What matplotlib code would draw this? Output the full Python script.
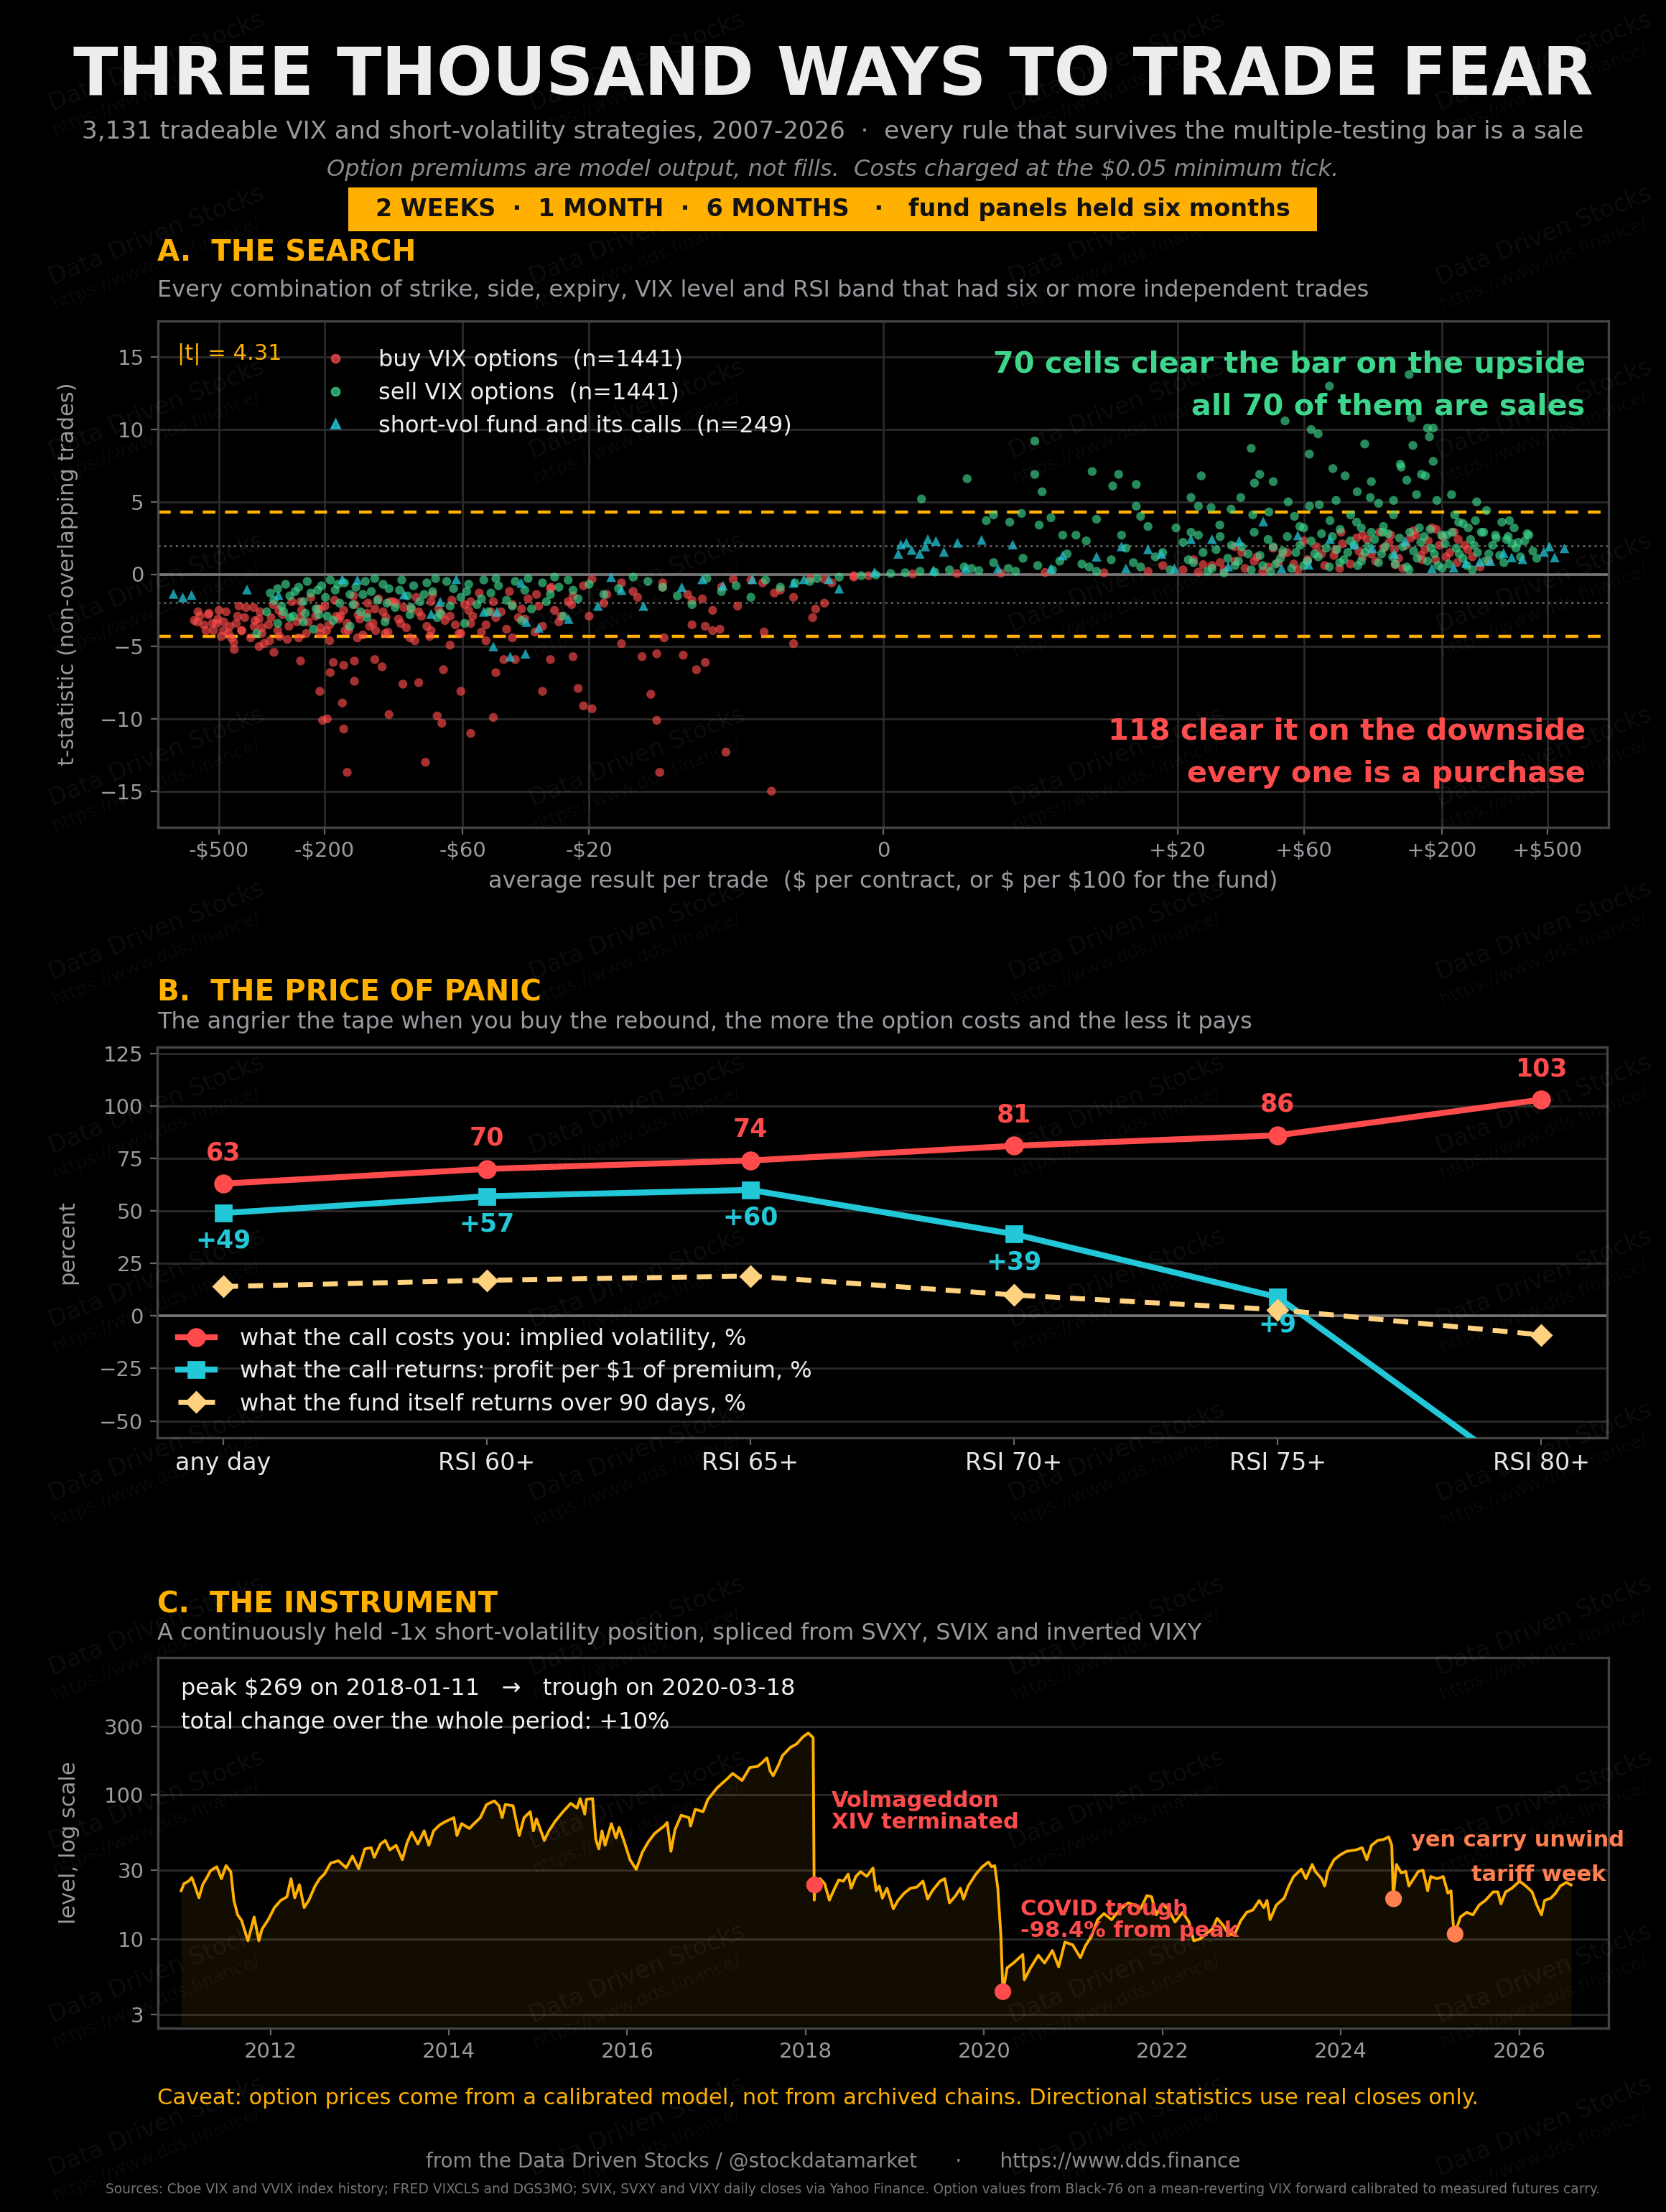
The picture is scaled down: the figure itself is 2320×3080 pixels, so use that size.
import numpy as np
import matplotlib
matplotlib.use('Agg')
from matplotlib import pyplot as plt
from matplotlib.lines import Line2D
from matplotlib.patches import Rectangle
from matplotlib.ticker import FixedLocator, NullLocator

plt.rcParams['text.parse_math'] = False
plt.rcParams['font.family'] = ['DejaVu Sans']

# ---------------- data ----------------
# panel A: (average $ result per trade, t-statistic)
buy_pts = [
    (-164, -13.7), (-83, -13.0), (-7.6, -15.0), (-15.2, -13.7), (-10.7, -12.3),
    (-169, -10.7), (-203, -10.1), (-195, -10.0), (-56, -11.0), (-46, -9.9), (-15.4, -10.1),
    (-72, -10.3), (-75, -9.8), (-114, -9.7), (-171, -8.9), (-208, -8.1), (-154, -7.4),
    (-101, -7.6), (-88, -7.5), (-61, -8.1), (-30, -8.1), (-22, -7.9), (-21, -9.1), (-19.8, -9.3),
    (-15.8, -8.3), (-190, -6.8), (-185, -6.1), (-246, -6.0), (-169, -6.3), (-154, -6.0),
    (-129, -5.9), (-121, -6.4), (-71, -6.6), (-45, -6.8), (-42, -5.9), (-38, -5.9), (-28, -5.9),
    (-23, -5.7), (-17.8, -4.8), (-16.4, -5.7), (-15.4, -5.5), (-13.6, -5.6), (-12.7, -6.6),
    (-12.1, -6.1), (-11.6, -3.9), (-11.1, -3.8), (-8.1, -4.0), (-6.1, -4.8), (-4.8, -3.0),
    (-4.6, -2.4), (-4.0, -2.0), (-9.9, -2.2), (-6.1, -1.6), (-7.4, -1.3), (-12.3, -1.7),
    (-12.1, -3.6), (-11.6, -2.5), (-13.0, -3.5), (-14.9, -4.4), (-438, -5.2), (-353, -5.0),
    (-310, -5.4), (-603, -3.3), (-549, -2.8), (-511, -3.4), (-479, -3.9), (-449, -4.4),
    (-411, -3.9), (-368, -3.6), (-344, -4.1), (-322, -4.6), (-353, -3.1), (-420, -2.2),
    (-297, -2.5), (-246, -3.0), (-208, -4.1), (-191, -3.5), (-167, -3.9), (-147, -3.1),
    (-135, -3.6), (-118, -4.1), (-103, -3.4), (-91, -4.6), (-79, -3.9), (-67, -4.9), (-61, -4.1),
    (-56, -3.4), (-49, -4.6), (-39, -4.4), (-35, -3.1), (-30, -3.6), (-25.5, -2.9),
    (-246, -1.9), (-208, -2.4), (-174, -2.9), (-153, -2.1), (-129, -2.4), (-113, -1.9),
    (-94, -2.4), (-79, -1.9), (-67, -2.9), (-56, -1.9), (-47, -2.6), (-39, -2.1), (-31.6, -1.4),
    (-23.3, -2.1), (-18.8, -1.4), (-16.7, -1.6), (-15.0, -0.9), (-13.3, -1.4), (-10.2, -0.35),
    (-8.2, -0.6), (-4.0, -0.35), (-2.0, -0.1), (-17.8, -0.6), (-19.8, -0.35), (-27.8, -0.9),
    (-620, -3.2), (-590, -2.9), (-570, -3.5), (-545, -2.7), (-525, -3.9), (-505, -3.1),
    (-490, -4.3), (-470, -2.6), (-455, -3.6), (-440, -4.7), (-425, -2.9), (-410, -3.9),
    (-395, -2.3), (-380, -4.4), (-365, -3.2), (-350, -2.6), (-338, -4.8), (-325, -3.5),
    (-312, -2.1), (-300, -3.9), (-288, -2.8), (-276, -4.5), (-265, -1.9), (-254, -3.3),
    (-244, -2.5), (-234, -4.1), (-225, -1.6), (-216, -2.9), (-207, -3.7), (-199, -2.2),
    (-191, -4.6), (-183, -1.8), (-176, -3.1), (-169, -2.5), (-162, -3.9), (-155, -1.5),
    (-149, -2.8), (-143, -4.2), (-137, -2.0), (-131, -3.4), (-125, -1.7), (-120, -2.6),
    (-115, -4.0), (-110, -1.9), (-105, -3.1), (-100, -2.3), (-95, -4.4), (-90, -1.6),
    (-86, -2.9), (-82, -3.6), (-78, -1.4), (-74, -2.4), (-70, -3.2), (-66, -1.8), (-62, -4.1),
    (-59, -2.1), (-55, -2.9), (-52, -1.3), (-49, -3.5), (-46, -1.9), (-43, -2.6), (-40, -1.2),
    (-37, -3.0), (-34, -1.7), (-31, -2.2), (-28, -1.0), (-26, -3.3), (-23, -1.5), (-21, -0.8),
    (-19, -2.0), (-17, -1.2), (-15, -0.6), (-13, -1.8), (-11, -0.9), (-9, -0.4), (-7, -1.1),
    (-5, -0.3), (-3.5, -0.6), (-2, -0.2), (-1, -0.1),
    (-600, -2.6), (-560, -3.9), (-530, -3.4), (-500, -2.5), (-480, -3.3), (-460, -4.1),
    (-430, -3.4), (-400, -3.0), (-370, -2.3), (-345, -3.7), (-318, -3.0), (-295, -4.3),
    (-272, -3.6), (-250, -4.4), (-230, -3.3), (-212, -2.4), (-196, -3.9), (-180, -2.9),
    (-164, -3.4), (-150, -4.4), (-138, -2.7), (-128, -3.9), (-117, -3.0), (-107, -2.0),
    (-98, -3.7), (-88, -2.6), (-80, -4.3), (-72, -2.8), (-64, -3.5), (-57, -2.5), (-51, -4.0),
    (-45, -3.0), (-41, -3.8), (-36, -2.4), (-32, -4.0), (-27, -2.5), (-24, -1.9), (-20, -2.9),
    (15, 0.1), (18, 0.2), (21, 0.3), (24, 0.15), (27, 0.6), (30, 0.3), (33, 0.9), (36, 0.4),
    (40, 1.2), (44, 0.5), (48, 0.8), (52, 1.5), (57, 0.3), (62, 1.0), (67, 1.9), (72, 0.6),
    (78, 1.3), (84, 2.1), (90, 0.7), (97, 1.6), (104, 2.4), (112, 0.9), (120, 1.8), (128, 2.7),
    (137, 1.1), (146, 2.0), (156, 3.0), (166, 1.3), (177, 2.3), (189, 1.0), (201, 2.6),
    (214, 1.5), (228, 0.8), (243, 2.0), (260, 1.2), (278, 0.5), (300, 0.9), (5, 0.05),
    (8, 0.08), (11, 0.12), (2, 0.02), (159, 2.7), (190, 3.1), (126, 2.2), (100, 1.2),
    (79, 1.7), (62, 0.9), (50, 1.4), (39, 0.9), (33, 1.9), (25, 0.66), (230, 2.4), (133, 0.66),
    (168, 1.0), (100, 2.7), (83, 2.9),
    (19, 0.6), (23, 1.0), (29, 0.8), (35, 1.5), (42, 0.2), (46, 1.8), (55, 0.7), (60, 2.3),
    (70, 1.4), (82, 0.4), (95, 2.5), (108, 1.4), (116, 2.9), (132, 1.7), (142, 0.4),
    (152, 2.5), (172, 1.7), (183, 3.2), (195, 2.0), (207, 1.2), (222, 2.9), (250, 1.7),
]

sell_pts = [
    (150, 13.8), (75, 13.0), (153, 10.8), (51, 10.6), (64, 10.0), (68, 9.7), (176, 10.1),
    (185, 10.1), (179, 9.5), (102, 9.0), (155, 8.9), (38, 8.7), (63, 8.3), (10.3, 9.2),
    (10.3, 6.9), (10.8, 5.7), (5.7, 6.6), (2.6, 5.2), (14.2, 7.1), (16.0, 6.9), (15.6, 6.1),
    (17.2, 6.2), (24.6, 6.8), (40.9, 6.9), (39.1, 6.3), (46.0, 6.4), (77.3, 7.3), (86.0, 6.8),
    (108, 6.4), (140, 7.4), (139, 7.6), (147, 6.5), (167, 6.9), (173, 6.8), (185, 7.8),
    (217, 5.5), (270, 5.0), (294, 4.4), (22.5, 5.3), (24, 4.7), (34.7, 5.3), (52.4, 5.0),
    (68.7, 4.8), (79.5, 5.1), (95.5, 5.7), (107, 5.3), (115, 4.9), (131, 5.1), (160, 5.5),
    (191, 5.1), (223, 4.1), (231, 3.6), (267, 3.7), (336, 3.6), (359, 3.7), (374, 3.2),
    (419, 2.8), (387, 2.2), (7.0, 3.7), (7.5, 4.1), (8.6, 3.6), (9.4, 4.2), (10.6, 3.4),
    (11.4, 3.9), (12.2, 2.7), (13.1, 2.7), (13.8, 2.3), (14.5, 3.8), (16.2, 2.7), (17.2, 4.7),
    (17.5, 4.0), (18.0, 3.3), (19.9, 3.2), (22.5, 2.9), (26.8, 4.6), (28.9, 3.4), (31.9, 4.5),
    (38.5, 4.1), (44.3, 4.3), (55.3, 4.0), (58.0, 3.3), (63.1, 4.7), (75.4, 3.7), (82.3, 3.1),
    (90.2, 4.1), (99.0, 3.2), (119, 2.9), (131, 4.1), (164, 3.2), (208, 2.7), (251, 3.2),
    (287, 2.9), (318, 2.7), (350, 2.4),
    (0.5, 0.05), (1.5, 0.1), (2.5, 0.2), (3.5, 0.15), (4.5, 0.3), (5.5, 0.5), (6.5, 0.25),
    (7.5, 0.8), (8.5, 0.4), (9.5, 1.1), (10.5, 0.6), (11.5, 0.3), (12.5, 1.4), (13.5, 0.7),
    (14.5, 0.2), (15.5, 1.0), (16.5, 1.8), (17.5, 0.5), (18.5, 1.2), (19.5, 0.3), (21, 2.2),
    (23, 0.8), (25, 1.5), (27, 0.4), (29, 2.6), (31, 1.1), (33, 0.6), (35, 1.9), (38, 0.3),
    (41, 1.3), (44, 2.4), (47, 0.7), (50, 1.6), (54, 0.4), (58, 2.0), (62, 0.9), (66, 1.4),
    (70, 2.8), (75, 0.5), (80, 1.7), (85, 1.0), (90, 2.3), (96, 0.6), (102, 1.5), (108, 2.9),
    (115, 0.8), (122, 1.9), (130, 1.2), (138, 2.5), (147, 0.5), (156, 1.6), (166, 2.2),
    (176, 0.9), (187, 1.4), (199, 2.7), (212, 0.7), (226, 1.8), (240, 1.1), (256, 2.4),
    (272, 1.5), (290, 0.9), (310, 2.0), (330, 1.3), (355, 2.6), (380, 1.8), (410, 2.3),
    (440, 1.6), (120, 3.3), (95, 3.6), (180, 3.1), (240, 3.5), (60, 3.2), (150, 0.3),
    (200, 0.4), (260, 0.3), (45, 0.2), (30, 0.1),
    (22, 1.0), (24, 2.7), (26, 0.2), (28, 1.7), (32, 2.0), (34, 0.9), (37, 1.4), (39, 2.9),
    (42, 0.6), (46, 1.9), (49, 1.1), (52, 2.6), (56, 1.5), (60, 0.6), (64, 2.3), (68, 1.2),
    (73, 1.8), (77, 2.6), (82, 0.8), (88, 1.5), (93, 2.0), (99, 0.9), (105, 1.9), (111, 2.4),
    (118, 1.4), (125, 2.8), (133, 0.7), (142, 1.9), (151, 2.9), (161, 1.1), (171, 2.6),
    (182, 1.8), (193, 0.6), (205, 2.1), (218, 2.9), (232, 1.4), (248, 0.6), (264, 2.0),
    (281, 2.9), (300, 1.4), (320, 2.5), (342, 0.8), (368, 2.1), (395, 1.2), (425, 2.7),
    (455, 1.1), (6, 0.4), (9, 0.2), (12, 0.9), (14, 0.5), (17, 0.8), (19, 1.5),
    (-330, -2.6), (-310, -1.8), (-300, -1.0), (-290, -2.2), (-280, -0.7), (-270, -1.5),
    (-262, -2.9), (-250, -0.9), (-240, -1.9), (-232, -0.5), (-225, -1.3), (-215, -2.4),
    (-205, -0.8), (-198, -1.6), (-190, -0.4), (-182, -1.1), (-175, -2.0), (-168, -0.6),
    (-160, -1.4), (-152, -0.9), (-146, -2.6), (-140, -0.5), (-133, -1.2), (-126, -1.8),
    (-120, -0.7), (-114, -1.0), (-108, -2.3), (-102, -0.4), (-97, -1.5), (-92, -0.8),
    (-87, -1.9), (-82, -0.6), (-78, -1.2), (-73, -2.7), (-69, -0.5), (-65, -1.0), (-61, -1.6),
    (-57, -0.7), (-53, -2.1), (-50, -0.4), (-47, -1.3), (-44, -0.8), (-41, -1.8), (-38, -0.5),
    (-35, -1.1), (-33, -2.4), (-30, -0.6), (-28, -1.4), (-26, -0.9), (-24, -0.4), (-22, -1.7),
    (-20, -0.7), (-18, -1.0), (-16, -0.5), (-14, -1.5), (-12, -0.3), (-10, -0.8), (-8, -0.4),
    (-6, -0.6), (-4.5, -0.3), (-3, -0.2), (-1.5, -0.1), (-0.5, -0.05), (-9, -1.6), (-13, -2.1),
    (-17, -0.2), (-25, -2.9), (-36, -3.2), (-48, -2.6), (-59, -3.4), (-75, -3.0), (-95, -2.8),
    (-118, -3.3), (-138, -3.0), (-160, -3.6), (-185, -3.2), (-210, -2.8), (-240, -3.3),
    (-270, -3.0), (-300, -3.4), (-360, -4.1), (-220, -3.8),
    (-320, -1.3), (-285, -2.6), (-258, -1.2), (-236, -2.7), (-212, -1.1), (-195, -2.9),
    (-178, -0.7), (-156, -2.1), (-143, -1.4), (-129, -0.3), (-116, -2.0), (-104, -1.1),
    (-94, -2.3), (-84, -1.4), (-76, -0.3), (-67, -2.2), (-58, -1.2), (-51, -1.7), (-45, -0.3),
    (-39, -2.2), (-34, -0.3), (-29, -1.9), (-27, -0.2), (-23, -1.1), (-19, -1.4), (-15, -0.9),
    (-11, -1.2), (-7, -0.9), (-5, -0.5),
]

fund_pts = [
    (-743, -1.36), (-685, -1.6), (-635, -1.44), (-392, -1.06), (-298, -1.44), (-46, -5.0),
    (-39.7, -5.7), (-34.8, -5.5), (-34.5, -3.3), (-31, -3.7), (-23.9, -3.1), (-19.4, -2.2),
    (-16.3, -2.2), (-13.7, -0.9), (-10.9, -0.8), (-6.1, -0.6), (-3.0, -1.0), (-3.7, -0.35),
    (-171, -0.35), (-150, -0.4), (-100, -1.4), (-79, -2.75), (-73, -1.9), (-50, -2.6),
    (-44.6, -2.6), (-63.5, -0.35), (-36.1, -0.6), (-18.5, -0.2), (-17.8, -1.1), (-12.3, -0.35),
    (-8.9, -0.35), (-5.4, -0.35), (-0.6, 0.15),
    (1.02, 1.41), (1.2, 2.05), (1.57, 2.17), (1.93, 1.67), (2.48, 1.41), (2.85, 1.92),
    (3.03, 2.42), (3.58, 2.3), (4.12, 1.54), (5.04, 2.17), (6.68, 2.37), (8.8, 2.05),
    (12.2, 1.29), (14.5, 1.21), (16.2, 1.92), (18.0, 1.72), (18.9, 1.41), (22.5, 2.42),
    (27, 2.42), (34.2, 2.3), (42.2, 3.64), (57.0, 2.68), (75.4, 2.42), (93.0, 2.05),
    (109, 1.79), (132, 1.41), (145, 2.3), (183, 0.4), (221, 0.45), (246, 0.78), (277, 0.86),
    (304, 0.91), (341, 1.46), (366, 1.16), (402, 1.04), (484, 1.54), (508, 1.92), (532, 1.16),
    (579, 1.79), (62.6, 0.66), (49.5, 0.4), (31.1, 0.53), (19.8, 0.4), (16.5, 0.4),
    (11.4, 0.4), (7.8, 0.4), (5.6, 0.4), (3.4, 0.28),
]

t_bar = 4.31
t_nominal = 1.96
x_ticks = [-500, -200, -60, -20, 0, 20, 60, 200, 500]
x_tick_labels = ['-$500', '-$200', '-$60', '-$20', '0', '+$20', '+$60', '+$200', '+$500']

# panel B
rsi_bands = ['any day', 'RSI 60+', 'RSI 65+', 'RSI 70+', 'RSI 75+', 'RSI 80+']
call_iv = [63, 70, 74, 81, 86, 103]
call_ret = [49, 57, 60, 39, 9, -82]
fund_ret = [14, 17, 19, 10, 3, -9]

# panel C: spliced short-vol level (decimal year, level)
inst_year = [
    2011.000, 2011.031, 2011.084, 2011.119, 2011.154, 2011.199, 2011.241, 2011.294, 2011.329,
    2011.399, 2011.451, 2011.503, 2011.556, 2011.591, 2011.633, 2011.678, 2011.748, 2011.818,
    2011.871, 2011.906, 2011.976, 2012.045, 2012.115, 2012.185, 2012.231, 2012.273, 2012.325,
    2012.378, 2012.430, 2012.500, 2012.552, 2012.605, 2012.675, 2012.762, 2012.850, 2012.920,
    2012.990, 2013.059, 2013.129, 2013.164, 2013.234, 2013.287, 2013.339, 2013.409, 2013.479,
    2013.531, 2013.584, 2013.654, 2013.724, 2013.776, 2013.829, 2013.899, 2013.969, 2014.056,
    2014.091, 2014.143, 2014.231, 2014.283, 2014.353, 2014.423, 2014.510, 2014.563, 2014.598,
    2014.633, 2014.720, 2014.790, 2014.843, 2014.913, 2014.948, 2014.983, 2015.070, 2015.122,
    2015.192, 2015.280, 2015.367, 2015.437, 2015.472, 2015.524, 2015.542, 2015.612, 2015.647,
    2015.682, 2015.717, 2015.752, 2015.822, 2015.874, 2015.909, 2015.962, 2016.031, 2016.101,
    2016.168, 2016.238, 2016.308, 2016.413, 2016.448, 2016.490, 2016.535, 2016.605, 2016.692,
    2016.710, 2016.762, 2016.850, 2016.902, 2017.007, 2017.112, 2017.182, 2017.287, 2017.374,
    2017.462, 2017.514, 2017.566, 2017.601, 2017.636, 2017.689, 2017.741, 2017.829, 2017.899,
    2017.969, 2018.030, 2018.084, 2018.096, 2018.110, 2018.126, 2018.161, 2018.213, 2018.266,
    2018.318, 2018.371, 2018.423, 2018.476, 2018.510, 2018.563, 2018.615, 2018.685, 2018.755,
    2018.790, 2018.825, 2018.860, 2018.912, 2018.983, 2019.035, 2019.105, 2019.175, 2019.245,
    2019.315, 2019.367, 2019.420, 2019.507, 2019.559, 2019.612, 2019.682, 2019.734, 2019.769,
    2019.822, 2019.909, 2019.979, 2020.049, 2020.084, 2020.119, 2020.154, 2020.189, 2020.211,
    2020.259, 2020.329, 2020.434, 2020.451, 2020.521, 2020.608, 2020.678, 2020.766, 2020.836,
    2020.906, 2020.993, 2021.080, 2021.133, 2021.203, 2021.273, 2021.343, 2021.430, 2021.517,
    2021.615, 2021.685, 2021.755, 2021.825, 2021.878, 2021.930, 2022.000, 2022.070, 2022.140,
    2022.227, 2022.297, 2022.350, 2022.420, 2022.490, 2022.559, 2022.612, 2022.682, 2022.734,
    2022.804, 2022.874, 2022.944, 2023.014, 2023.084, 2023.136, 2023.171, 2023.206, 2023.276,
    2023.364, 2023.416, 2023.469, 2023.556, 2023.608, 2023.678, 2023.713, 2023.783, 2023.818,
    2023.853, 2023.923, 2023.993, 2024.063, 2024.168, 2024.238, 2024.290, 2024.343, 2024.413,
    2024.483, 2024.535, 2024.570, 2024.587, 2024.622, 2024.675, 2024.727, 2024.762, 2024.815,
    2024.867, 2024.920, 2024.972, 2025.007, 2025.077, 2025.147, 2025.199, 2025.234, 2025.259,
    2025.280, 2025.339, 2025.409, 2025.479, 2025.549, 2025.619, 2025.706, 2025.759, 2025.794,
    2025.846, 2025.916, 2026.003, 2026.073, 2026.143, 2026.196, 2026.248, 2026.283, 2026.353,
    2026.406, 2026.458, 2026.528, 2026.580,
]
inst_level = [
    21.6, 24.2, 25.2, 26.7, 23.3, 19.3, 23.8, 27.1, 29.8,
    31.7, 26.2, 32.3, 29.3, 18.5, 14.7, 13.4, 9.7, 14.2,
    9.7, 11.7, 13.6, 16.5, 18.5, 19.6, 26.2, 19.3, 23.8,
    16.5, 18.5, 23.3, 26.2, 28.2, 33.6, 34.9, 31.2, 37.6,
    30.7, 42.2, 43.0, 36.9, 45.6, 48.3, 41.5, 44.7, 35.5,
    46.4, 55.2, 45.6, 56.3, 44.7, 56.3, 62.0, 65.6, 69.5,
    52.2, 63.2, 58.5, 63.2, 69.5, 85.8, 90.9, 84.1, 69.5,
    85.8, 84.1, 52.2, 69.5, 76.5, 56.3, 68.2, 48.3, 56.3,
    65.6, 76.5, 87.4, 81.0, 94.4, 73.6, 93.3, 94.4, 49.2,
    42.2, 56.3, 44.7, 63.2, 50.2, 59.6, 48.3, 35.5, 30.4,
    39.9, 47.4, 54.1, 60.8, 64.3, 40.6, 57.4, 72.2, 69.5,
    60.8, 79.5, 76.5, 92.6, 112, 128, 141, 126, 155,
    158, 168, 181, 147, 136, 158, 188, 214, 226,
    253, 269, 250, 18.6, 25.5, 22.0, 26.2, 24.2, 18.6,
    22.0, 25.7, 25.2, 28.2, 22.5, 27.2, 29.3, 27.2, 31.1,
    21.6, 23.3, 19.2, 22.5, 16.2, 18.5, 20.8, 22.5, 22.9,
    25.2, 18.9, 21.6, 25.2, 26.2, 17.8, 20.0, 22.5, 18.9,
    23.3, 28.2, 31.7, 34.2, 31.7, 32.3, 22.5, 10.4, 4.3,
    6.3, 6.8, 7.8, 5.2, 6.3, 7.7, 6.8, 8.3, 6.4,
    9.5, 9.1, 7.4, 8.9, 10.4, 13.6, 15.0, 13.6, 15.9,
    17.8, 17.2, 16.2, 20.0, 19.6, 14.7, 17.5, 15.9, 13.1,
    15.3, 13.1, 9.7, 10.0, 10.9, 11.7, 13.9, 12.4, 10.9,
    10.6, 13.3, 15.3, 15.9, 18.5, 16.5, 18.5, 13.6, 17.2,
    19.2, 23.3, 27.1, 30.5, 26.2, 32.9, 29.4, 26.2, 23.3,
    29.4, 35.5, 38.4, 40.6, 41.5, 43.0, 35.5, 44.7, 48.3,
    49.2, 51.2, 44.7, 19.5, 32.9, 28.8, 29.4, 23.3, 26.2,
    29.4, 30.0, 21.6, 27.1, 26.2, 27.1, 20.8, 21.6, 12.6,
    11.0, 14.2, 15.3, 14.7, 17.2, 18.5, 21.2, 21.2, 17.5,
    21.2, 22.5, 25.2, 23.3, 21.2, 17.2, 14.7, 18.5, 19.2,
    20.8, 23.3, 24.7, 23.7,
]

event_year = [2018.100, 2020.211, 2024.590, 2025.280]
event_level = [23.7, 4.3, 19.0, 10.8]
event_color = ['#FF4B4B', '#FF4B4B', '#FF7F50', '#FF7F50']

# ---------------- style ----------------
BG = '#000000'
AMBER = '#FFB000'
RED = '#FF4B4B'
GREEN = '#3DD68C'
CYAN = '#22C7D8'
SAND = '#FFD27F'
CORAL = '#FF7F50'
GREY = '#9A9AA0'
GRID = '#2A2A2A'
SPINE = '#444444'

W, H = 2320, 3080


def fx(px):
    return px / W


def fy(py):
    return 1 - py / H


def style_axes(ax):
    ax.set_facecolor(BG)
    for s in ax.spines.values():
        s.set_color(SPINE)
        s.set_linewidth(1.2)
    ax.tick_params(colors='#666666', labelcolor=GREY, labelsize=10.5)
    ax.set_axisbelow(True)


fig = plt.figure(figsize=(11.6, 15.4), dpi=200)
fig.patch.set_facecolor(BG)

# ---------------- headings ----------------
fig.text(0.5, fy(132), 'THREE THOUSAND WAYS TO TRADE FEAR', ha='center', va='baseline',
         fontsize=33, fontweight='bold', color='#EDEDED')
fig.text(0.5, fy(183), '3,131 tradeable VIX and short-volatility strategies, 2007-2026  \u00b7  '
         'every rule that survives the multiple-testing bar is a sale',
         ha='center', va='center', fontsize=12.3, color=GREY)
fig.text(0.5, fy(237), 'Option premiums are model output, not fills.  Costs charged at the $0.05 minimum tick.',
         ha='center', va='center', fontsize=11.5, style='italic', color='#8A8A8A')
fig.add_artist(Rectangle((fx(485), fy(322)), fx(1349), 61 / H, transform=fig.transFigure,
                         facecolor=AMBER, edgecolor='none'))
fig.text(0.5, fy(291), '2 WEEKS  \u00b7  1 MONTH  \u00b7  6 MONTHS   \u00b7   fund panels held six months',
         ha='center', va='center', fontsize=12, fontweight='bold', color='#111111')

sections = [
    (363, 413, 'A.  THE SEARCH',
     'Every combination of strike, side, expiry, VIX level and RSI band that had six or more independent trades'),
    (1393, 1432, 'B.  THE PRICE OF PANIC',
     'The angrier the tape when you buy the rebound, the more the option costs and the less it pays'),
    (2245, 2283, 'C.  THE INSTRUMENT',
     'A continuously held -1x short-volatility position, spliced from SVXY, SVIX and inverted VIXY'),
]
for yh, ys, head, sub in sections:
    fig.text(fx(219), fy(yh), head, fontsize=14.5, fontweight='bold', color=AMBER, va='baseline')
    fig.text(fx(219), fy(ys), sub, fontsize=11.5, color=GREY, va='baseline')

# ---------------- panel A ----------------
axA = fig.add_axes([fx(220), fy(1152), fx(2020), 705 / H])
style_axes(axA)
axA.set_xscale('symlog', linthresh=20, linscale=1)
bx, bt = zip(*buy_pts)
sx, st = zip(*sell_pts)
ux, ut = zip(*fund_pts)
axA.scatter(bx, bt, s=20, color=RED, alpha=0.65, edgecolors='none', zorder=3)
axA.scatter(sx, st, s=20, color=GREEN, alpha=0.65, edgecolors='none', zorder=3)
axA.scatter(ux, ut, s=24, marker='^', color=CYAN, alpha=0.75, edgecolors='none', zorder=4)
for sgn in (1, -1):
    axA.axhline(sgn * t_bar, color=AMBER, ls='--', lw=1.6, dashes=(4, 3), zorder=2)
    axA.axhline(sgn * t_nominal, color='#555555', ls=':', lw=1.1, zorder=2)
axA.axhline(0, color='#777777', lw=1.3, zorder=2)
axA.set_xlim(-850, 850)
axA.set_ylim(-17.5, 17.5)
axA.xaxis.set_major_locator(FixedLocator(x_ticks))
axA.xaxis.set_minor_locator(NullLocator())
axA.set_xticklabels(x_tick_labels)
axA.set_yticks([-15, -10, -5, 0, 5, 10, 15])
axA.grid(True, color=GRID, lw=1)
axA.set_xlabel('average result per trade  ($ per contract, or $ per $100 for the fund)',
               color=GREY, fontsize=11.5)
axA.xaxis.set_label_coords(0.5, -0.085)
axA.set_ylabel('t-statistic (non-overlapping trades)', color=GREY, fontsize=11)
axA.yaxis.set_label_coords(-0.055, 0.5)
axA.text(0.0134, 0.935, '|t| = 4.31', transform=axA.transAxes, color=AMBER, fontsize=11,
         va='center')
handles = [
    Line2D([], [], ls='', marker='o', color=RED, alpha=0.7, markersize=4),
    Line2D([], [], ls='', marker='o', color=GREEN, alpha=0.7, markersize=4),
    Line2D([], [], ls='', marker='^', color=CYAN, alpha=0.8, markersize=4.5),
]
axA.legend(handles, ['buy VIX options  (n=1441)', 'sell VIX options  (n=1441)',
                     'short-vol fund and its calls  (n=249)'],
           loc='upper left', bbox_to_anchor=(0.092, 0.985), frameon=False,
           fontsize=11.5, labelcolor='#EEEEEE', handletextpad=0.9, labelspacing=0.45)
for yy, txt, col in [(0.913, '70 cells clear the bar on the upside', GREEN),
                     (0.830, 'all 70 of them are sales', GREEN),
                     (0.189, '118 clear it on the downside', RED),
                     (0.105, 'every one is a purchase', RED)]:
    axA.text(0.984, yy, txt, transform=axA.transAxes, ha='right', va='center', color=col,
             fontsize=14.9, fontweight='bold')

# ---------------- panel B ----------------
axB = fig.add_axes([fx(219), fy(2002), fx(2019), 544 / H])
style_axes(axB)
xb = np.arange(len(rsi_bands))
axB.plot(xb, call_iv, color=RED, lw=3, marker='o', markersize=8.5, zorder=4,
         label='what the call costs you: implied volatility, %')
axB.plot(xb, call_ret, color=CYAN, lw=3, marker='s', markersize=8, zorder=4,
         label='what the call returns: profit per $1 of premium, %')
axB.plot(xb, fund_ret, color=SAND, lw=2.5, ls='--', dashes=(3, 2), marker='D', markersize=7,
         zorder=4, label='what the fund itself returns over 90 days, %')
axB.axhline(0, color='#777777', lw=1.3, zorder=2)
for i, v in enumerate(call_iv):
    axB.annotate(str(v), (i, v), xytext=(0, 15.5), textcoords='offset points', ha='center',
                 va='center', color=RED, fontsize=12.5, fontweight='bold')
for i, v in enumerate(call_ret[:-1]):
    axB.annotate('+%d' % v, (i, v), xytext=(0, -14), textcoords='offset points', ha='center',
                 va='center', color=CYAN, fontsize=12.5, fontweight='bold', zorder=5)
axB.set_xlim(-0.25, 5.25)
axB.set_ylim(-58, 128)
axB.set_yticks([-50, -25, 0, 25, 50, 75, 100, 125])
axB.set_xticks(xb)
axB.set_xticklabels(rsi_bands)
axB.tick_params(axis='x', labelcolor='#E6E6E6', labelsize=12)
axB.grid(True, axis='y', color=GRID, lw=1)
axB.set_ylabel('percent', color=GREY, fontsize=11)
axB.yaxis.set_label_coords(-0.055, 0.5)
axB.legend(loc='lower left', bbox_to_anchor=(0.0, 0.005), frameon=False, fontsize=11.5,
           labelcolor='#EEEEEE', handlelength=1.6, handletextpad=1.1, labelspacing=0.45)

# ---------------- panel C ----------------
axC = fig.add_axes([fx(220), fy(2824), fx(2020), 516 / H])
style_axes(axC)
axC.set_yscale('log')
axC.fill_between(inst_year, inst_level, 2.5, color=AMBER, alpha=0.075, lw=0, zorder=1)
axC.plot(inst_year, inst_level, color=AMBER, lw=1.4, zorder=3)
axC.scatter(event_year, event_level, s=70, color=event_color, zorder=5, edgecolors='none')
axC.set_xlim(2010.74, 2027.0)
axC.set_ylim(2.4, 900)
axC.yaxis.set_major_locator(FixedLocator([3, 10, 30, 100, 300]))
axC.yaxis.set_minor_locator(NullLocator())
axC.set_yticklabels(['3', '10', '30', '100', '300'])
axC.set_xticks(list(range(2012, 2027, 2)))
axC.set_xticklabels([str(y) for y in range(2012, 2027, 2)])
axC.grid(True, axis='y', color=GRID, lw=1)
axC.set_ylabel('level, log scale', color=GREY, fontsize=11)
axC.yaxis.set_label_coords(-0.054, 0.5)
axC.text(0.0158, 0.915, 'peak $269 on 2018-01-11   \u2192   trough on 2020-03-18',
         transform=axC.transAxes, color='#F0F0F0', fontsize=11.5, va='center')
axC.text(0.0158, 0.824, 'total change over the whole period: +10%',
         transform=axC.transAxes, color='#F0F0F0', fontsize=11.5, va='center')
axC.text(2018.29, 76.8, 'Volmageddon\nXIV terminated', color=RED, fontsize=11,
         fontweight='bold', va='center', linespacing=1.05)
axC.text(2020.41, 13.5, 'COVID trough\n-98.4% from peak', color=RED, fontsize=11,
         fontweight='bold', va='center', linespacing=1.05)
axC.text(2024.79, 48.5, 'yen carry unwind', color=CORAL, fontsize=11, fontweight='bold',
         va='center')
axC.text(2025.46, 27.9, 'tariff week', color=CORAL, fontsize=11, fontweight='bold', va='center')

# ---------------- footer ----------------
fig.text(fx(219), fy(2922), 'Caveat: option prices come from a calibrated model, not from archived chains. '
         'Directional statistics use real closes only.', color=AMBER, fontsize=11, va='center')
fig.text(0.5, fy(3010), 'from the Data Driven Stocks / @stockdatamarket      \u00b7      https://www.dds.finance',
         ha='center', va='center', color='#8A8A8A', fontsize=10)
fig.text(0.512, fy(3048), 'Sources: Cboe VIX and VVIX index history; FRED VIXCLS and DGS3MO; SVIX, SVXY and VIXY '
         'daily closes via Yahoo Finance. Option values from Black-76 on a mean-reverting VIX forward '
         'calibrated to measured futures carry.', ha='center', va='center', color='#777777', fontsize=6.7)

# ---------------- watermark ----------------
wm_rows = list(range(155, 2900, 242)) + [3030]
for wx in [73, 742, 1410, 2005]:
    for wy in wm_rows:
        fig.text(fx(wx), fy(wy), 'Data Driven Stocks', rotation=22, rotation_mode='anchor',
                 ha='left', va='baseline', fontsize=12, color='white', alpha=0.055, zorder=20)
        fig.text(fx(wx + 4), fy(wy + 34), 'https://www.dds.finance/', rotation=22,
                 rotation_mode='anchor', ha='left', va='baseline', fontsize=9, color='white',
                 alpha=0.045, zorder=20)

fig.savefig('out.png', dpi=200, facecolor=BG)
